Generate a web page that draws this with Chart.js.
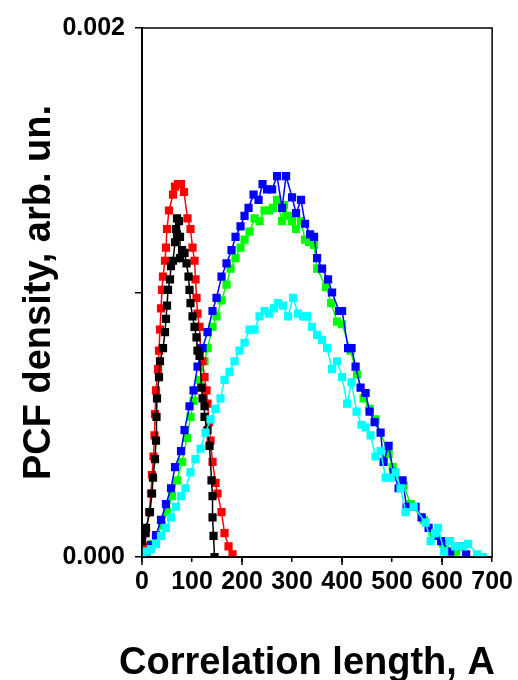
<!DOCTYPE html>
<html>
<head>
<meta charset="utf-8">
<script src="https://cdn.jsdelivr.net/npm/chart.js@4.4.0/dist/chart.umd.min.js"></script>
<style>body{margin:0;background:#fff}</style>
</head>
<body>
<canvas id="pcf" width="518" height="680"></canvas>
<script>
// correlation length, A  /  PCF density
const blackX = [0,6,8,16,20,22,26,28,29,30,34,36,42,46,48,50,52,56,58,62,66,68,70,70,74,76,76,80,85,89,93,95,97,101,105,109,111,115,119,121,125,125,131,135,139,141,141,143,145];
const blackY = [.00006,.00009,.00011,.00017,.00024,.00030,.00037,.00044,.00053,.00060,.00068,.00074,.00079,.00085,.00090,.00095,.00101,.00105,.00110,.00112,.00119,.00124,.00128,.00122,.00127,.00121,.00113,.00116,.00115,.00111,.00106,.00101,.00096,.00091,.00087,.00083,.00078,.00076,.00064,.00060,.00057,.00053,.00048,.00042,.00029,.00023,.00015,.00008,.00000];

const redX = [2,6,8,14,18,20,23,25,26,28,32,34,36,38,40,42,46,48,50,54,62,66,72,78,84,91,97,101,105,107,109,111,115,117,121,125,129,131,134,137,141,147,151,159,165,173,181];
const redY = [.00000,.00004,.00009,.00017,.00024,.00031,.00038,.00046,.00054,.00063,.00071,.00078,.00086,.00094,.00101,.00106,.00112,.00117,.00124,.00131,.00137,.00140,.00141,.00141,.00138,.00128,.00124,.00117,.00112,.00105,.00098,.00092,.00087,.00079,.00074,.00068,.00063,.00058,.00051,.00044,.00036,.00028,.00024,.00017,.00009,.00004,.00001];

const blueX = [0,8,18,28,38,48,58,66,78,85,95,103,111,121,131,141,149,159,169,179,187,197,205,213,223,233,241,250,260,270,280,288,300,308,318,326,336,344,350,360,372,380,394,400,412,419,427,437,447,455,465,477,483,493,503,513,521,529,547,559,573,588,598,616,638,648];
const blueY = [0,.000015,.000045,.000083,.00014,.00020,.00026,.00034,.00040,.00048,.00057,.00063,.00072,.00079,.00085,.00093,.00098,.00106,.00111,.00116,.00121,.00125,.00129,.00132,.00137,.00135,.00141,.00139,.00139,.00144,.00132,.00144,.00136,.00130,.00135,.00126,.00122,.00121,.00113,.00109,.00105,.00100,.00093,.00093,.00079,.00079,.00072,.00064,.00062,.00055,.00051,.00047,.00036,.00042,.00032,.00026,.00029,.00019,.00019,.00015,.00011,.00008,.00006,.00002,.00004,.00001];

const greenX = [10,20,30,40,50,60,70,80,90,97,103,115,125,131,141,149,159,169,177,187,197,205,215,225,235,245,254,262,270,280,284,292,300,308,318,326,334,344,350,368,378,390,400,417,430,443,455,467,493,501,523,537,563,582,602,628];
const greenY = [.00002,.00005,.00008,.00012,.00017,.00023,.00029,.00036,.00045,.00053,.00059,.00067,.00074,.00079,.00087,.00091,.00097,.00103,.00109,.00113,.00117,.00120,.00123,.00128,.00127,.00131,.00131,.00132,.00135,.00127,.00133,.00129,.00127,.00124,.00127,.00120,.00119,.00118,.00109,.00102,.00096,.00089,.00088,.00078,.00069,.00060,.00056,.00052,.00039,.00034,.00027,.00020,.00014,.00009,.00005,.00002];

const cyanX = [0,8,18,28,38,48,58,68,78,87,97,107,117,127,137,147,157,165,175,185,195,205,215,225,235,245,254,264,272,282,292,302,312,322,330,340,350,360,370,380,390,400,410,419,429,439,447,457,467,477,487,497,507,517,527,543,567,577,586,592,604,616,626,642,652,670,682];
const cyanY = [0,.00002,.00003,.00005,.00008,.00011,.00015,.00019,.00023,.00026,.00032,.00037,.00041,.00047,.00052,.00056,.00060,.00067,.00070,.00074,.00078,.00081,.00086,.00086,.00091,.00093,.00092,.00094,.00096,.00095,.00091,.00098,.00092,.00091,.00091,.00087,.00084,.00082,.00079,.00071,.00074,.00068,.00058,.00066,.00055,.00050,.00049,.00046,.00038,.00040,.00030,.00030,.00032,.00026,.00017,.00019,.00013,.00006,.00009,.00011,.00002,.00006,.00004,.00004,.00005,.00001,.00000];

const xTicks = [0,100,200,300,400,500,600,700];
const yTicks = [0, 0.002];
const xTitle = 'Correlation length, A';
const yTitle = 'PCF density, arb. un.';

function pts(xs, ys){
  return xs.map((x,i)=>({x:x, y:ys[i]}));
}

function series(xs, ys, col, ord){
  return {
    data: pts(xs, ys),
    showLine: true,
    borderColor: col,
    backgroundColor: col,
    borderWidth: 1.5,
    pointStyle: 'rect',
    pointRadius: 5.8,
    pointBorderWidth: 0,
    order: ord
  };
}

const fontFam = "'Liberation Sans', Arial, sans-serif";

// closed box round the plot, longer ticks at 0,200,400,600,
// and the x title (wider than the axis, so Chart.js would squeeze it)
const frame = {
  id: 'frame',
  afterDraw(chart){
    const a = chart.chartArea, c = chart.ctx;
    c.save();
    c.strokeStyle = '#000';
    c.lineWidth = 1.5;
    c.strokeRect(a.left, a.top, a.right - a.left, a.bottom - a.top);
    const xs = chart.scales.x;
    xTicks.forEach((v, i) => {
      if (i % 2 === 0) {
        const px = xs.getPixelForValue(v);
        c.beginPath();
        c.moveTo(px, a.bottom);
        c.lineTo(px, a.bottom + 8);
        c.stroke();
      }
    });
    c.fillStyle = '#000';
    c.font = "bold 38px " + fontFam;
    c.textAlign = 'center';
    c.textBaseline = 'alphabetic';
    c.fillText(xTitle, 307, 674);
    c.restore();
  }
};

new Chart(document.getElementById('pcf'), {
  type: 'scatter',
  data: {
    datasets: [
      series(cyanX, cyanY, '#00ffff', 1),
      series(blackX, blackY, '#000000', 2),
      series(blueX, blueY, '#0000ff', 3),
      series(redX, redY, '#ff0000', 4),
      series(greenX, greenY, '#00ff00', 5)
    ]
  },
  options: {
    responsive: false,
    animation: false,
    layout: {padding: {left: 0, top: 28, right: 23, bottom: 0}},
    plugins: {legend: {display: false}, tooltip: {enabled: false}},
    scales: {
      x: {
        type: 'linear', min: 0, max: 700,
        afterFit(s){ s.height = 123; },
        afterBuildTicks(s){ s.ticks = xTicks.map(v=>({value:v})); },
        border: {display: true, color: '#000', width: 2},
        grid: {drawOnChartArea: false, color: '#000', lineWidth: 1.5, tickLength: 5},
        ticks: {color: '#000', padding: 5, maxRotation: 0,
          font: {family: fontFam, size: 25, weight: 'bold'}},
        title: {display: false}
      },
      y: {
        type: 'linear', min: 0, max: 0.002,
        afterFit(s){ s.width = 142; },
        afterBuildTicks(s){ s.ticks = [0, 0.001, 0.002].map(v=>({value:v})); },
        border: {display: true, color: '#000', width: 2},
        grid: {drawOnChartArea: false, color: '#000', lineWidth: 1.5, tickLength: 7},
        ticks: {color: '#000', padding: 10,
          callback: v => yTicks.some(t => Math.abs(t - v) < 1e-9) ? v.toFixed(3) : '',
          font: {family: fontFam, size: 25, weight: 'bold'}},
        title: {display: true, text: yTitle, color: '#000',
          padding: {top: 21, bottom: 0},
          font: {family: fontFam, size: 38, weight: 'bold', lineHeight: 1}}
      }
    }
  },
  plugins: [frame]
});
</script>
</body>
</html>
